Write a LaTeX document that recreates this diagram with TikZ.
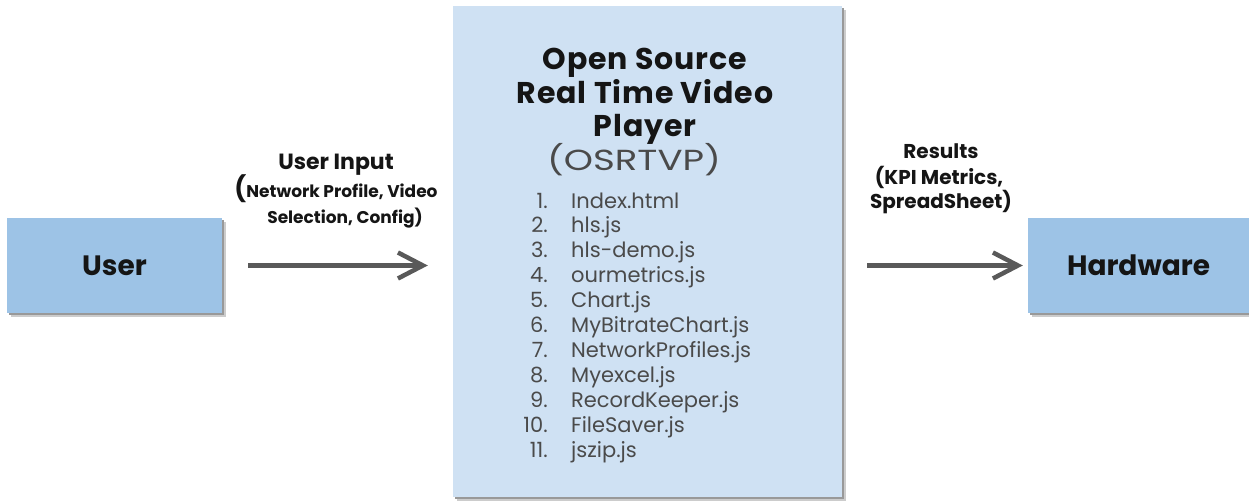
\documentclass[tikz,border=0pt]{standalone}
\usepackage{fontspec}
\usepackage{graphicx}
\setmainfont{Poppins}
\usetikzlibrary{arrows.meta,shadows}
\definecolor{boxblue}{HTML}{9DC3E6}
\definecolor{paleblue}{HTML}{CFE1F3}
\definecolor{arrowgray}{HTML}{595959}
\definecolor{txtgray}{HTML}{4A4A4A}
\definecolor{txtdark}{HTML}{151515}
\tikzset{
  boxshadow/.style={general shadow={fill=black!20, shadow xshift=4pt, shadow yshift=-4pt},
                    general shadow={fill=black!40, shadow xshift=2pt, shadow yshift=-2pt}},
  bluebox/.style={boxshadow, fill=boxblue, draw=none, inner sep=0pt, text=txtdark,
                  font=\bfseries\fontsize{28}{34}\selectfont},
  mainbox/.style={boxshadow, fill=paleblue, draw=none, inner sep=0pt},
  titleline/.style={anchor=base, inner sep=0pt, text=txtdark,
                    font=\bfseries\fontsize{30}{36}\selectfont\addfontfeature{LetterSpace=3}},
  abbrline/.style={anchor=base, inner sep=0pt, text=txtgray,
                   font=\fontsize{29}{36}\selectfont},
  listnum/.style={anchor=base east, inner sep=0pt, text=txtgray, font=\fontsize{21}{25}\selectfont},
  listitem/.style={anchor=base west, inner sep=0pt, text=txtgray, font=\fontsize{21}{25}\selectfont},
  lbl/.style={anchor=base, inner sep=0pt, text=txtdark, font=\bfseries\fontsize{20}{24}\selectfont},
  lblbig/.style={anchor=base, inner sep=0pt, text=txtdark, font=\bfseries\fontsize{22}{26}\selectfont},
  lblsmall/.style={anchor=base, inner sep=0pt, text=txtdark, font=\bfseries\fontsize{17}{21}\selectfont},
  arr/.style={draw=arrowgray, line width=4.5pt, -{Straight Barb[length=25pt, width=26pt]}}
}
\begin{document}
\begin{tikzpicture}[x=1pt,y=-1pt]
\useasboundingbox[fill=white] (0,0) rectangle (1249,503);
% boxes
\node[bluebox, minimum width=215, minimum height=95] (user) at (114.5,265.5) {User};
\node[mainbox, minimum width=389, minimum height=491] (osr) at (647.5,251.5) {};
\node[bluebox, minimum width=221, minimum height=95] (hw) at (1138.5,265.5) {Hardware};
% title
\node[titleline] (t1) at (645,70) {Open Source};
\node[titleline] (t2) at (645,103) {Real Time Video};
\node[titleline] (t3) at (645,136) {Player};
\node[abbrline] (t4) at (634,170) {\scalebox{1.28}[1]{(OSRTVP)}};
% list
\foreach \t [count=\i] in {Index.html, hls.js, hls-demo.js, ourmetrics.js, Chart.js, MyBitrateChart.js, NetworkProfiles.js, Myexcel.js, RecordKeeper.js, FileSaver.js, jszip.js} {
  \node[listnum] (n\i) at (548, {208+24.9*(\i-1)}) {\i.};
  \node[listitem] (f\i) at (571, {208+24.9*(\i-1)}) {\t};
}
% arrows
\draw[arr, shorten <=26pt, shorten >=25pt] (user.east) -- (user.east -| osr.west);
\draw[arr, shorten <=25pt, shorten >=5pt] (osr.east |- hw.west) -- (hw.west);
% labels
\node[lblbig] (ui) at (336,169) {User Input};
\node[lblsmall] (ui2) at (336,197) {{\fontsize{25}{28}\selectfont(}Network Profile, Video};
\node[lblsmall] (ui3) at (345,223) {Selection, Config)};
\node[lbl] (r1) at (941,158) {Results};
\node[lbl] (r2) at (939,184) {(KPI Metrics,};
\node[lbl] (r3) at (941,208) {SpreadSheet)};
\end{tikzpicture}
\end{document}
